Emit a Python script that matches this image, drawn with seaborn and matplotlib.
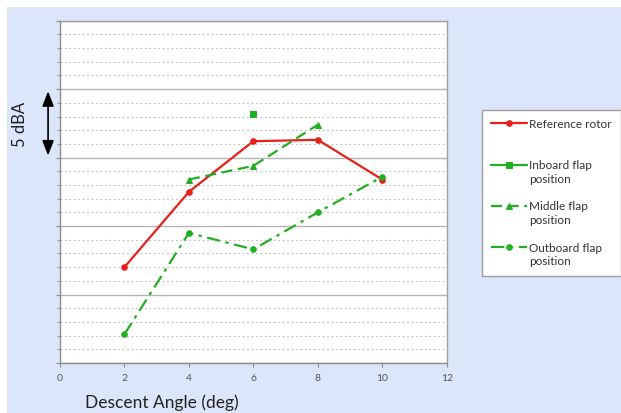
import numpy as np
import pandas as pd
import matplotlib
matplotlib.use("Agg")
import matplotlib.pyplot as plt
import seaborn as sns
from matplotlib.patches import Rectangle
from matplotlib.legend_handler import HandlerLine2D
from matplotlib.transforms import Affine2D

sns.set_style("white")
plt.rcParams["font.family"] = ["Lato", "DejaVu Sans"]

# data (relative dBA, 1 unit = 1 dB)
angles = [2, 4, 6, 8, 10]
reference_rotor = [7.0, 12.5, 16.2, 16.3, 13.4]
inboard_flap = [np.nan, np.nan, 18.2, np.nan, np.nan]
middle_flap = [np.nan, 13.4, 14.4, 17.4, np.nan]
outboard_flap = [2.1, 9.5, 8.3, 11.0, 13.6]
labels = ["Reference rotor\n ", "Inboard flap\nposition",
          "Middle flap\nposition", "Outboard flap\nposition"]

RED = "#e8201c"
GREEN = "#22b022"
BG = "#dce6fa"


class FirstLineHandler(HandlerLine2D):
    # put the legend line next to the first line of a two-line label
    def create_artists(self, legend, orig_handle, xdescent, ydescent, width,
                       height, fontsize, trans):
        shift = Affine2D().translate(0, fontsize * 0.7)
        return super().create_artists(legend, orig_handle, xdescent, ydescent,
                                      width, height, fontsize, shift + trans)


fig = plt.figure(figsize=(6.21, 4.13), dpi=100)
fig.patch.set_facecolor("white")
fig.patches.append(Rectangle((7 / 621, 0), 1, 1 - 7 / 413, transform=fig.transFigure,
                             facecolor=BG, edgecolor="none", zorder=-10))

ax = fig.add_axes([60 / 621, 1 - 363 / 413, 386.7 / 621, 342.3 / 413])
ax.set_facecolor("white")

series = [
    (reference_rotor, RED, "o", "-", 4),
    (inboard_flap, GREEN, "s", "-", 4),
    (middle_flap, GREEN, "^", (0, (5, 2.5)), 5),
    (outboard_flap, GREEN, "o", (0, (6, 2.5, 1.5, 2.5)), 4),
]
for (vals, col, mk, ls, ms), lab in zip(series, labels):
    df = pd.DataFrame({"angle": angles, "dba": vals})
    sns.lineplot(data=df, x="angle", y="dba", ax=ax, color=col, marker=mk,
                 markersize=ms, markeredgecolor=col, linestyle=ls, linewidth=1.6,
                 label=lab)

ax.set_xlim(0, 12)
ax.set_ylim(0, 25)
ax.set_xticks(range(0, 13, 2))
ax.set_yticks(range(0, 26, 5))
ax.set_yticks(range(0, 26, 1), minor=True)
ax.set_yticklabels([])
ax.grid(True, axis="y", which="major", color="#b4b4b4", linewidth=1.0)
ax.grid(True, axis="y", which="minor", color="#bdbdbd", linewidth=0.8, linestyle=(0, (1.5, 2.5)))
ax.grid(False, axis="x")
ax.set_axisbelow(True)
for s in ax.spines.values():
    s.set_color("#a0a0a0")
    s.set_linewidth(1.0)
ax.spines["bottom"].set_color("#8c8c8c")
ax.spines["left"].set_color("#8c8c8c")
ax.tick_params(axis="x", direction="out", length=3, color="#8c8c8c", labelsize=7.5,
               labelcolor="#555555", pad=5, bottom=True)
ax.tick_params(axis="y", which="both", direction="out", length=3, color="#8c8c8c", left=True)
ax.tick_params(axis="y", which="minor", length=2)

ax.set_ylabel("")
ax.set_xlabel("Descent Angle (deg)", fontsize=12.5, color="#222222")
ax.xaxis.set_label_coords((162 - 60) / 386.7, -(403 - 363) / 342.3)
ax.xaxis.label.set_va("center")

fig.text(20 / 621, 1 - 124 / 413, "5 dBA", rotation=90, ha="center", va="center",
         fontsize=12, color="#222222")
ax.annotate("", xy=(-0.37, 19.85), xytext=(-0.37, 15.15), xycoords="data",
            annotation_clip=False,
            arrowprops=dict(arrowstyle="<|-|>,head_length=0.9,head_width=0.35",
                            color="black", lw=1.2, shrinkA=0, shrinkB=0))

ax.get_legend().remove()
handles, labs = ax.get_legend_handles_labels()
leg = fig.legend(handles, labs, loc="upper left",
                 bbox_to_anchor=(482 / 621, 1 - 110 / 413), bbox_transform=fig.transFigure,
                 frameon=True, fancybox=False, framealpha=1.0, fontsize=8.5,
                 handlelength=3.1, handletextpad=0.15, labelspacing=1.4,
                 borderpad=0.75, borderaxespad=0,
                 handler_map={h: FirstLineHandler() for h in handles})
leg.get_frame().set_edgecolor("#a0a0a0")
leg.get_frame().set_linewidth(1.0)
for t in leg.get_texts():
    t.set_color("#333333")
    t.set_linespacing(1.3)

fig.savefig("out.png", dpi=100)
